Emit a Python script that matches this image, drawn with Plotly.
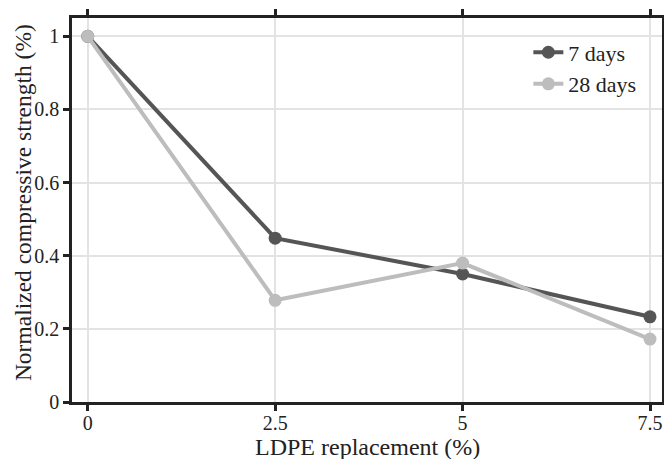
import plotly.graph_objects as go

x_vals = [0, 2.5, 5, 7.5]
days7 = [1.0, 0.448, 0.35, 0.233]
days28 = [1.0, 0.278, 0.38, 0.172]
x_ticks = [0, 2.5, 5, 7.5]
x_ticklabels = ["0", "2.5", "5", "7.5"]
y_ticks = [0, 0.2, 0.4, 0.6, 0.8, 1]
y_ticklabels = ["0", "0.2", "0.4", "0.6", "0.8", "1"]
x_title = "LDPE replacement (%)"
y_title = "Normalized compressive strength (%)"

FONT = "Times New Roman, Liberation Serif, DejaVu Serif, serif"

fig = go.Figure()
fig.add_trace(go.Scatter(x=x_vals, y=days7, mode="lines+markers", name="7 days",
                         line=dict(color="#555555", width=4), marker=dict(size=13, color="#555555")))
fig.add_trace(go.Scatter(x=x_vals, y=days28, mode="lines+markers", name="28 days",
                         line=dict(color="#bdbdbd", width=4), marker=dict(size=13, color="#bdbdbd")))

fig.update_layout(
    width=664, height=459,
    margin=dict(l=72, r=2, t=18, b=57),
    paper_bgcolor="white", plot_bgcolor="white",
    font=dict(family=FONT, size=20, color="#222222"),
    legend=dict(x=0.965, y=0.965, xanchor="right", yanchor="top", font=dict(size=22),
                bgcolor="rgba(0,0,0,0)", tracegroupgap=0),
    showlegend=True,
)
fig.add_annotation(text=x_title, xref="paper", yref="paper", x=0.5, y=-0.117,
                   xanchor="center", yanchor="middle", showarrow=False,
                   font=dict(family=FONT, size=24, color="#222222"))
fig.add_annotation(text=y_title, xref="paper", yref="paper", x=-0.083, y=0.518,
                   xanchor="center", yanchor="middle", showarrow=False, textangle=-90,
                   font=dict(family=FONT, size=23.5, color="#222222"))
fig.update_xaxes(range=[-0.21, 7.66], tickvals=x_ticks, ticktext=x_ticklabels,
                 showgrid=True, gridcolor="#e3e3e3", gridwidth=2,
                 showline=True, linecolor="#222222", linewidth=2.5, mirror="ticks",
                 ticks="outside", ticklen=6, tickwidth=2.5, tickcolor="#222222",
                 ticklabelstandoff=-5,
                 zeroline=False, automargin=False)
fig.update_yaxes(range=[0, 1.05], tickvals=y_ticks, ticktext=y_ticklabels,
                 showgrid=True, gridcolor="#e3e3e3", gridwidth=2,
                 showline=True, linecolor="#222222", linewidth=2.5, mirror="ticks",
                 ticks="outside", ticklen=6, tickwidth=2.5, tickcolor="#222222",
                 zeroline=False, automargin=False)

fig.write_html("out.html")
